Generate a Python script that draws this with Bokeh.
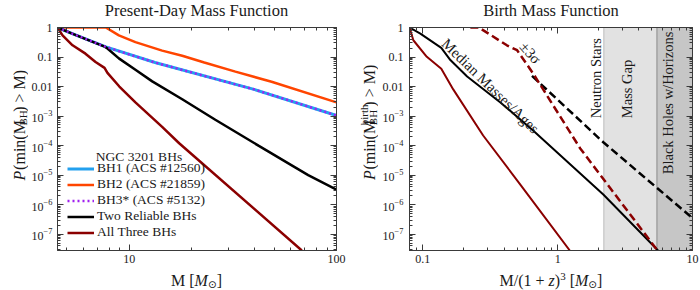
import math
from bokeh.plotting import figure
from bokeh.models import (LogAxis, FixedTicker, LogTickFormatter, Label, Legend,
                          LegendItem, BoxAnnotation, Span, Range1d)
from bokeh.layouts import row, column
from bokeh.embed import file_html
from bokeh.resources import INLINE

# ---------------- data ----------------
# Present-day mass function: M [Msun] vs P(min(M_BH) > M)
bh1_mass = [4.5, 5.3, 7.7, 13.3, 40.0, 100.0]
bh1_prob = [1.0, 0.62, 0.22, 0.065, 8.0e-3, 1.05e-3]
bh2_mass = [4.5, 7.7, 8.9, 10.7, 14.4, 18.0, 23.0, 32.5, 48.6, 100.0]
bh2_prob = [1.0, 1.0, 0.54, 0.32, 0.165, 0.11, 0.065, 0.032, 0.0145, 2.9e-3]
bh3_mass = [4.5, 5.3, 7.7, 13.3, 40.0, 100.0]
bh3_prob = [1.0, 0.62, 0.22, 0.065, 8.0e-3, 1.05e-3]
two_mass = [4.5, 5.3, 7.6, 7.84, 8.9, 10.7, 12.9, 18.0, 26.0, 42.0, 73.0, 100.0]
two_prob = [1.0, 0.62, 0.225, 0.195, 0.09, 0.037, 0.015, 3.7e-3, 7.5e-4, 1.0e-4, 1.0e-5, 3.2e-6]
three_mass = [4.5, 4.76, 5.32, 6.14, 6.87, 7.59, 7.84, 8.95, 10.7, 14.4, 17.4, 68.0]
three_prob = [1.0, 0.54, 0.25, 0.13, 0.068, 0.043, 0.029, 0.01, 2.9e-3, 4.3e-4, 1.2e-4, 2.8e-8]

# Birth mass function: M/(1+z)^3 [Msun]
med_mass = [0.0796, 0.0958, 0.137, 0.16, 0.213, 0.376, 0.66, 2.18, 5.55]
med_prob = [1.0, 0.62, 0.205, 0.079, 0.022, 2.9e-3, 3.2e-4, 2.2e-6, 2.8e-8]
med3_mass = [0.0796, 0.085, 0.107, 0.137, 0.168, 0.28, 0.53, 1.23]
med3_prob = [1.0, 0.37, 0.102, 0.04, 8.0e-3, 2.2e-4, 4.7e-6, 2.8e-8]
sig_all_mass = [0.225, 0.26, 0.42, 0.5, 0.66, 1.47, 5.5]
sig_all_prob = [1.0, 1.0, 0.25, 0.17, 0.027, 8.0e-5, 2.8e-8]
sig_two_mass = [0.645, 2.18, 10.0]
sig_two_prob = [0.023, 1.3e-4, 3.5e-7]

NS_MAX = 2.2      # edge of neutron-star region
GAP_MAX = 5.45    # edge of mass-gap region

legend_labels = ["BH1 (ACS #12560)", "BH2 (ACS #21859)", "BH3* (ACS #5132)",
                 "Two Reliable BHs", "All Three BHs"]

X1 = (4.5, 100.0)
X2 = (0.0796, 10.0)
YR = (2.8e-8, 1.0)

y_major = [10.0 ** e for e in range(-7, 1)]
x1_major = [10.0, 100.0]
x2_major = [0.1, 1.0, 10.0]


def minors(lo, hi):
    out = []
    for e in range(-9, 3):
        for k in range(2, 10):
            v = k * 10.0 ** e
            if lo <= v <= hi:
                out.append(v)
    return out


SERIF = "Liberation Serif"
AX = "#3a3a3a"
TXT = "#1a1a1a"

# layout geometry (pixels)
TITLE_H = 19
XLAB_H = 21
MAIN_H = 290 - TITLE_H - XLAB_H
BT, FH = 8, 223
BB = MAIN_H - BT - FH
YLAB_W = 28

C_BH1 = "#23a0ee"
C_BH2 = "#ff4500"
C_BH3 = "#a020f0"
C_RED = "#8b0000"


def style_axis(ax, ticker, show, standoff):
    ax.ticker = ticker
    ax.formatter = LogTickFormatter(min_exponent=3)
    ax.major_tick_in = 6
    ax.major_tick_out = 0
    ax.minor_tick_in = 3
    ax.minor_tick_out = 0
    ax.axis_line_color = AX
    ax.major_tick_line_color = AX
    ax.minor_tick_line_color = AX
    ax.major_label_text_font = SERIF
    ax.major_label_text_font_size = "12px"
    ax.major_label_text_color = TXT
    ax.major_label_standoff = standoff
    if not show:
        ax.major_label_text_font_size = "0px"
        ax.major_label_standoff = 0
        ax.major_label_text_alpha = 0


def make_fig(xr, bl, fw, br, xmaj, ystandoff):
    p = figure(width=bl + fw + br, height=MAIN_H, x_axis_type="log", y_axis_type="log",
               x_range=xr, y_range=YR, output_backend="svg", toolbar_location=None,
               min_border_left=bl, min_border_right=br, min_border_top=BT,
               min_border_bottom=BB, title=None)
    p.xgrid.visible = False
    p.ygrid.visible = False
    p.outline_line_color = AX
    p.background_fill_color = "white"
    p.border_fill_color = "white"
    xt = FixedTicker(ticks=xmaj, minor_ticks=minors(*xr))
    yt = FixedTicker(ticks=y_major, minor_ticks=minors(*YR))
    style_axis(p.xaxis[0], xt, True, 4)
    style_axis(p.yaxis[0], yt, True, ystandoff)
    top = LogAxis()
    style_axis(top, xt, False, 0)
    p.add_layout(top, "above")
    right = LogAxis()
    style_axis(right, yt, False, 0)
    p.add_layout(right, "right")
    return p


def strip(w, h):
    s = figure(width=w, height=h, x_range=Range1d(0, w), y_range=Range1d(h, 0),
               output_backend="svg", toolbar_location=None, min_border=0,
               x_axis_location=None, y_axis_location=None, title=None)
    s.xgrid.visible = False
    s.ygrid.visible = False
    s.outline_line_color = None
    s.background_fill_color = "white"
    s.border_fill_color = "white"
    return s


def lab(p, text, x, y, dx=0, dy=0, size="16px", style="normal", angle=0.0,
        align="left", baseline="alphabetic", font=SERIF):
    p.add_layout(Label(x=x, y=y, x_offset=dx, y_offset=dy, text=text,
                       text_font=font, text_font_size=size, text_font_style=style,
                       angle=angle, text_align=align, text_baseline=baseline,
                       text_color=TXT))


A = math.pi / 2

# ---------------- left panel ----------------
BL1, FW1, BR1 = 28, 280, 14
p1 = make_fig(X1, BL1, FW1, BR1, x1_major, 5)

r2 = p1.line(bh2_mass, bh2_prob, line_color=C_BH2, line_width=2.5)
r1 = p1.line(bh1_mass, bh1_prob, line_color=C_BH1, line_width=3)
r4 = p1.line(two_mass, two_prob, line_color="black", line_width=2.5)
r3 = p1.line(bh3_mass, bh3_prob, line_color=C_BH3, line_width=2.5, line_dash="2 3")
r5 = p1.line(three_mass, three_prob, line_color=C_RED, line_width=2.5)

leg = Legend(items=[LegendItem(label=legend_labels[0], renderers=[r1]),
                    LegendItem(label=legend_labels[1], renderers=[r2]),
                    LegendItem(label=legend_labels[2], renderers=[r3]),
                    LegendItem(label=legend_labels[3], renderers=[r4]),
                    LegendItem(label=legend_labels[4], renderers=[r5])],
             location=(10, 10), border_line_color=None, background_fill_alpha=0,
             padding=0, margin=0, spacing=0, glyph_width=27, glyph_height=15,
             label_height=15, label_standoff=3, label_text_font=SERIF,
             label_text_font_size="13.5px", label_text_color=TXT)
p1.add_layout(leg)
lab(p1, "NGC 3201 BHs", X1[0], YR[0], dx=81.5, dy=94, size="13.5px",
    align="center", baseline="middle")

# ---------------- right panel ----------------
BL2, FW2, BR2 = 31, 283, 8
p2 = make_fig(X2, BL2, FW2, BR2, x2_major, 6)

p2.add_layout(BoxAnnotation(left=NS_MAX, right=GAP_MAX, fill_color="#e2e2e2", fill_alpha=1,
                            line_color=None, level="underlay"))
p2.add_layout(BoxAnnotation(left=GAP_MAX, fill_color="#c6c6c6", fill_alpha=1,
                            line_color=None, level="underlay"))
p2.add_layout(Span(location=NS_MAX, dimension="height", line_color="#cdcdcd",
                   line_width=1.5, level="underlay"))
p2.add_layout(Span(location=GAP_MAX, dimension="height", line_color="#a2a2a2",
                   line_width=1.5, level="underlay"))

p2.line(med_mass, med_prob, line_color="black", line_width=2)
p2.line(sig_two_mass, sig_two_prob, line_color="black", line_width=2.5, line_dash="8 4")
p2.line(med3_mass, med3_prob, line_color=C_RED, line_width=2)
p2.line(sig_all_mass, sig_all_prob, line_color=C_RED, line_width=2.5, line_dash="8 4")

lab(p2, "Median Masses/Ages", 0.317, 0.0105, size="15px", angle=-0.77,
    align="center", baseline="middle")
lab(p2, "\u00b13\u03c3", 0.627, 0.138, size="15px", angle=-0.85,
    align="center", baseline="middle")
lab(p2, "Neutron Stars", 1.94, 8.5e-4, size="14.5px", angle=A, baseline="middle")
lab(p2, "Mass Gap", 3.27, 8.5e-4, size="14.5px", angle=A, baseline="middle")
lab(p2, "Black Holes w/Horizons", 6.63, 1.07e-5, size="14.5px", angle=A,
    baseline="middle")

# ---------------- text strips (titles, axis labels) ----------------
W = YLAB_W + p1.width + YLAB_W + p2.width
c1 = YLAB_W + BL1 + FW1 / 2
c2 = YLAB_W + p1.width + YLAB_W + BL2 + FW2 / 2

top_strip = strip(W, TITLE_H)
lab(top_strip, "Present-Day Mass Function", c1, TITLE_H / 2, size="16.5px",
    align="center", baseline="middle")
lab(top_strip, "Birth Mass Function", c2, TITLE_H / 2, size="16.5px",
    align="center", baseline="middle")

# y labels (rotated, read bottom to top)
yl1 = strip(YLAB_W, MAIN_H)
xb, s0 = 19, 171.4
lab(yl1, "P", xb, s0, style="italic", angle=A)
lab(yl1, "(min(M", xb, s0 - 11.78, angle=A)
lab(yl1, "BH", xb + 3.5, s0 - 61.56, size="11px", angle=A)
lab(yl1, ") > M)", xb, s0 - 76.84, angle=A)

yl2 = strip(YLAB_W, MAIN_H)
xb, s0 = 19, 171.1
lab(yl2, "P", xb, s0, style="italic", angle=A)
lab(yl2, "(min(M", xb, s0 - 11.78, angle=A)
lab(yl2, "birth", xb - 6, s0 - 61.56, size="11px", angle=A)
lab(yl2, "BH", xb + 3.5, s0 - 61.56, size="11px", angle=A)
lab(yl2, ") > M)", xb, s0 - 82.34, angle=A)

bot_strip = strip(W, XLAB_H)
ym = XLAB_H / 2
xs = c1 - 25.5
lab(bot_strip, "M [", xs, ym, baseline="middle")
lab(bot_strip, "M", xs + 23.55, ym, style="italic", baseline="middle")
lab(bot_strip, "\u2299", xs + 36.88, ym + 3.5, size="10.5px", font="DejaVu Sans",
    baseline="middle")
lab(bot_strip, "]", xs + 45.68, ym, baseline="middle")
xs = c2 - 51.43
lab(bot_strip, "M/(1 +", xs, ym, baseline="middle")
lab(bot_strip, "z", xs + 49.02, ym, style="italic", baseline="middle")
lab(bot_strip, ")", xs + 55.24, ym, baseline="middle")
lab(bot_strip, "3", xs + 60.57, ym - 4, size="11px", baseline="middle")
lab(bot_strip, "[", xs + 70.07, ym, baseline="middle")
lab(bot_strip, "M", xs + 75.4, ym, style="italic", baseline="middle")
lab(bot_strip, "\u2299", xs + 88.73, ym + 3.5, size="10.5px", font="DejaVu Sans",
    baseline="middle")
lab(bot_strip, "]", xs + 97.53, ym, baseline="middle")

layout = column(top_strip, row(yl1, p1, yl2, p2), bot_strip)
open("out.html", "w").write(file_html(layout, INLINE))
